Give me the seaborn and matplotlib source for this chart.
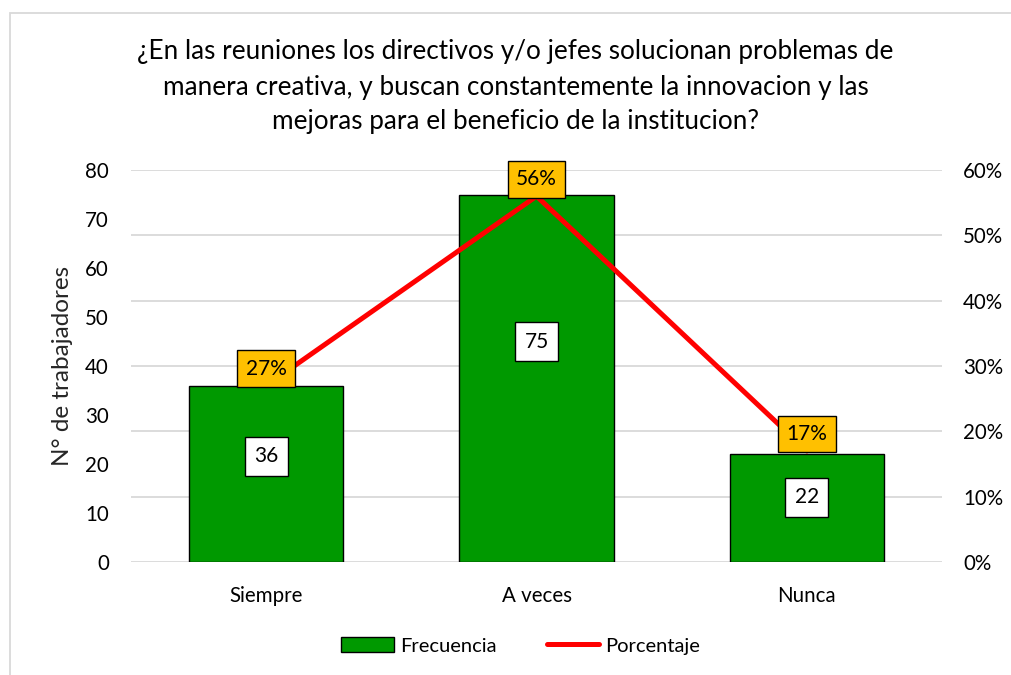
import numpy as np
import matplotlib
matplotlib.use("Agg")
import matplotlib.pyplot as plt
import seaborn as sns
from matplotlib.patches import Rectangle, Patch
from matplotlib.lines import Line2D
from matplotlib.ticker import PercentFormatter

categorias = ["Siempre", "A veces", "Nunca"]
frecuencia = [36, 75, 22]
porcentaje = [0.27, 0.56, 0.17]
etiquetas_pct = ["27%", "56%", "17%"]

titulo = ("¿En las reuniones los directivos y/o jefes solucionan problemas de\n"
          "manera creativa, y buscan constantemente la innovacion y las\n"
          "mejoras para el beneficio de la institucion?")

sns.set_theme(style="white")
plt.rcParams['font.family'] = ['Lato', 'DejaVu Sans']
plt.rcParams['text.color'] = '#000000'

fig = plt.figure(figsize=(10.11, 6.75), dpi=100)
ax = fig.add_axes([0.1296, 0.1674, 0.8022, 0.5807])
ax2 = ax.twinx()

# bars (left axis)
sns.barplot(x=categorias, y=frecuencia, color='#009900', width=0.57,
            edgecolor='black', linewidth=1, saturation=1, ax=ax, zorder=2)
ax.set_xlim(-0.5, 2.5)
ax.set_ylim(0, 80)
ax.set_yticks(range(0, 81, 10))

# line (right axis)
xs = np.arange(len(categorias))
sns.lineplot(x=xs, y=porcentaje, color='#ff0000', linewidth=3.6, ax=ax2,
             sort=False, legend=False, zorder=3)
ax2.set_ylim(0, 0.6)
ax2.set_yticks(np.arange(0, 0.61, 0.1))
ax2.yaxis.set_major_formatter(PercentFormatter(1.0, decimals=0))

# gridlines follow the right axis ticks, drawn behind the bars
for t in ax2.get_yticks():
    ax.axhline(t / 0.6 * 80, color='#d9d9d9', lw=1.3, zorder=0)

for a in (ax, ax2):
    for s in a.spines.values():
        s.set_visible(False)
    a.tick_params(length=0, labelsize=14.8, colors='#000000')
ax.tick_params(axis='y', pad=16)
ax.tick_params(axis='x', pad=17)
ax2.tick_params(axis='y', pad=15)
ax.set_xlabel("")
ax.set_ylabel("N° de trabajadores", fontsize=17.5, labelpad=9)
ax.set_xticks(xs)
ax.set_xticklabels(categorias)

# data labels
for i, v in enumerate(frecuencia):
    ax.text(i, v * 0.6, str(v), ha='center', va='center', fontsize=15, zorder=5,
            bbox=dict(boxstyle='square,pad=0.45', fc='white', ec='black', lw=1))
for i, p in enumerate(porcentaje):
    ax2.annotate(etiquetas_pct[i], (i, p), xytext=(0, 5), textcoords='offset points',
                 ha='center', va='bottom', fontsize=15, zorder=5,
                 bbox=dict(boxstyle='square,pad=0.4', fc='#ffc000', ec='black', lw=1))

fig.suptitle(titulo, x=0.51, y=1 - 87 / 675, va='center', fontsize=18.8,
             linespacing=1.5)

handles = [Patch(facecolor='#009900', edgecolor='black', lw=1),
           Line2D([], [], color='#ff0000', lw=3.6)]
fig.legend(handles, ["Frecuencia", "Porcentaje"], loc='center', ncol=2,
           bbox_to_anchor=(0.515, 0.043), frameon=False, fontsize=14.5,
           handlelength=2.6, columnspacing=2.5, handletextpad=0.3)

fig.patches.append(Rectangle((10 / 1011, -0.01), 1.1, 1 - 13 / 675 + 0.01,
                             transform=fig.transFigure, fill=False,
                             edgecolor='#d9d9d9', lw=1.3))

fig.savefig("out.png", dpi=100)
